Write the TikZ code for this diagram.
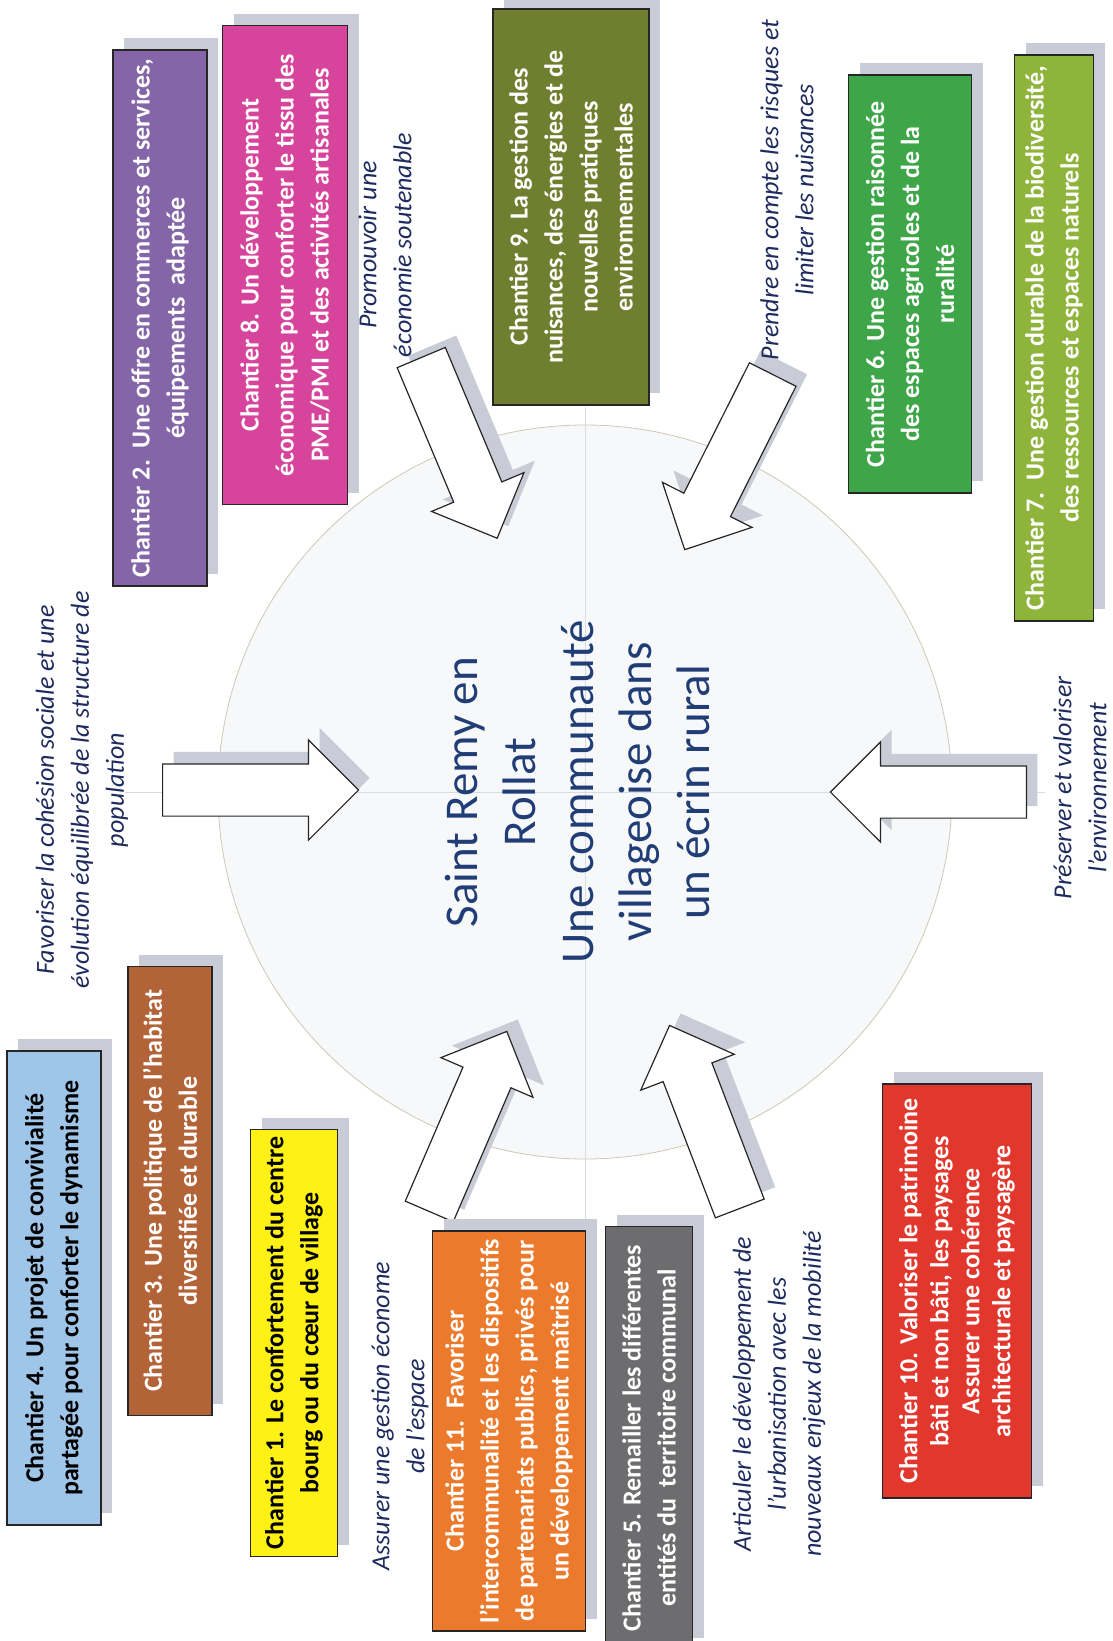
\documentclass[tikz,border=0pt]{standalone}
\usepackage{fontspec}
\setmainfont{Carlito}
\usetikzlibrary{shapes.arrows,calc}

\definecolor{shadowgrey}{HTML}{C9CBD6}
\definecolor{circlefill}{HTML}{F7F8FA}
\definecolor{circlerim}{HTML}{CFC8B6}
\definecolor{crossgrey}{HTML}{DADBE0}
\definecolor{navy}{HTML}{1E2B5E}
\definecolor{titleblue}{HTML}{203D76}
\definecolor{chone}{HTML}{FFF116}
\definecolor{chtwo}{HTML}{8466A8}
\definecolor{chthree}{HTML}{B26338}
\definecolor{chfour}{HTML}{9FC5E8}
\definecolor{chfive}{HTML}{6D6D70}
\definecolor{chsix}{HTML}{3EA649}
\definecolor{chseven}{HTML}{8FB43C}
\definecolor{cheight}{HTML}{D6459B}
\definecolor{chnine}{HTML}{6F7F2F}
\definecolor{chten}{HTML}{E1372D}
\definecolor{cheleven}{HTML}{EC7A2C}

\tikzset{
  shadowed/.style={preaction={fill=shadowgrey, transform canvas={xshift=11pt,yshift=12pt}}},
  chbox/.style={shadowed, draw=black!85, line width=1.3pt, rotate=90, align=center,
    text=white, inner sep=3pt, font=\fontsize{26}{35}\selectfont\bfseries},
  aim/.style={rotate=90, align=center, text=navy, font=\fontsize{26}{35}\selectfont\itshape},
  bigarrow/.style={shadowed, single arrow, draw=black!85, fill=white, line width=1.2pt,
    minimum height=196pt, minimum width=100pt, single arrow head extend=24pt,
    inner xsep=0pt, inner ysep=25.5pt, anchor=tail},
}

\begin{document}
\begin{tikzpicture}[x=1pt,y=-1pt]
  \path[use as bounding box, fill=white] (0,0) rectangle (1112,1641);
  % centre disc
  \node[circle, draw=circlerim, fill=circlefill, line width=.8pt, minimum size=734pt, inner sep=0pt] (centre) at (585,792) {};
  \draw[crossgrey, line width=.8pt] ($(centre)+(0,-385)$) -- ($(centre)+(0,430)$);
  \draw[crossgrey, line width=.8pt] ($(centre)+(-460,0)$) -- ($(centre)+(460,0)$);
  \node[rotate=90, align=center, text=titleblue, font=\fontsize{47}{58}\selectfont] (title) at (577,792)
    {Saint Remy en\\Rollat\\Une communauté\\villageoise dans\\un écrin rural};

  % arrows towards the centre
  \node[bigarrow, rotate=-67.2] (a1) at (421,357) {};
  \node[bigarrow, rotate=-116.7] (a2) at (773,374) {};
  \node[bigarrow] (a3) at (162,790) {};
  \node[bigarrow, rotate=180] (a4) at (1027,792) {};
  \node[bigarrow, rotate=66.7] (a5) at (429,1212) {};
  \node[bigarrow, rotate=111] (a6) at (740,1209) {};

  % chantiers
  \node[chbox, fill=chtwo, minimum width=536pt, minimum height=94pt] (ch2) at (160,318)
    {Chantier 2.\ \ Une offre en commerces et services,\\équipements\ \ adaptée};
  \node[chbox, fill=cheight, minimum width=479pt, minimum height=125pt] (ch8) at (285,265)
    {Chantier 8. Un développement\\économique pour conforter le tissu des\\PME/PMI et des activités artisanales};
  \node[chbox, fill=chnine, minimum width=396pt, minimum height=156pt] (ch9) at (571,207)
    {Chantier 9. La gestion des\\nuisances, des énergies et de\\nouvelles pratiques\\environnementales};
  \node[chbox, fill=chsix, minimum width=418pt, minimum height=123pt] (ch6) at (910,284)
    {Chantier 6. Une gestion raisonnée\\des espaces agricoles et de la\\ruralité};
  \node[chbox, fill=chseven, minimum width=566pt, minimum height=79pt] (ch7) at (1054,338)
    {Chantier 7.\ \ Une gestion durable de la biodiversité,\\des ressources et espaces naturels};
  \node[chbox, fill=chfour, text=black, minimum width=474pt, minimum height=94pt] (ch4) at (54,1288)
    {Chantier 4. Un projet de convivialité\\partagée pour conforter le dynamisme};
  \node[chbox, fill=chthree, minimum width=449pt, minimum height=84pt] (ch3) at (170,1191)
    {Chantier 3. Une politique de l’habitat\\diversifiée et durable};
  \node[chbox, fill=chone, text=black, minimum width=427pt, minimum height=87pt] (ch1) at (294,1343)
    {Chantier 1. Le confortement du centre\\bourg ou du cœur de village};
  \node[chbox, fill=cheleven, minimum width=400pt, minimum height=153pt] (ch11) at (509,1431)
    {Chantier 11.\ \ Favoriser\\l’intercommunalité et les dispositifs\\de partenariats publics, privés pour\\un développement maîtrisé};
  \node[chbox, fill=chfive, minimum width=423pt, minimum height=87pt] (ch5) at (649,1438)
    {Chantier 5. Remailler les différentes\\entités du\ \ territoire communal};
  \node[chbox, fill=chten, minimum width=414pt, minimum height=149pt,
        font=\fontsize{26}{31}\selectfont\bfseries] (ch10) at (957,1291)
    {Chantier 10. Valoriser le patrimoine\\bâti et non bâti, les paysages\\Assurer une cohérence\\architecturale et paysagère};

  % orientations
  \node[aim] (favoriser) at (82,790)
    {Favoriser la cohésion sociale et une\\évolution équilibrée de la structure de\\population};
  \node[aim] (promouvoir) at (385,245) {Promouvoir une\\économie soutenable};
  \node[aim] (prendre) at (787,190) {Prendre en compte les risques et\\limiter les nuisances};
  \node[aim] (preserver) at (1080,788) {Préserver et valoriser\\l’environnement};
  \node[aim] (articuler) at (779,1394)
    {Articuler le développement de\\l’urbanisation avec les\\nouveaux enjeux de la mobilité};
  \node[aim] (assurer) at (400,1416) {Assurer une gestion économe\\de l’espace};
\end{tikzpicture}
\end{document}
